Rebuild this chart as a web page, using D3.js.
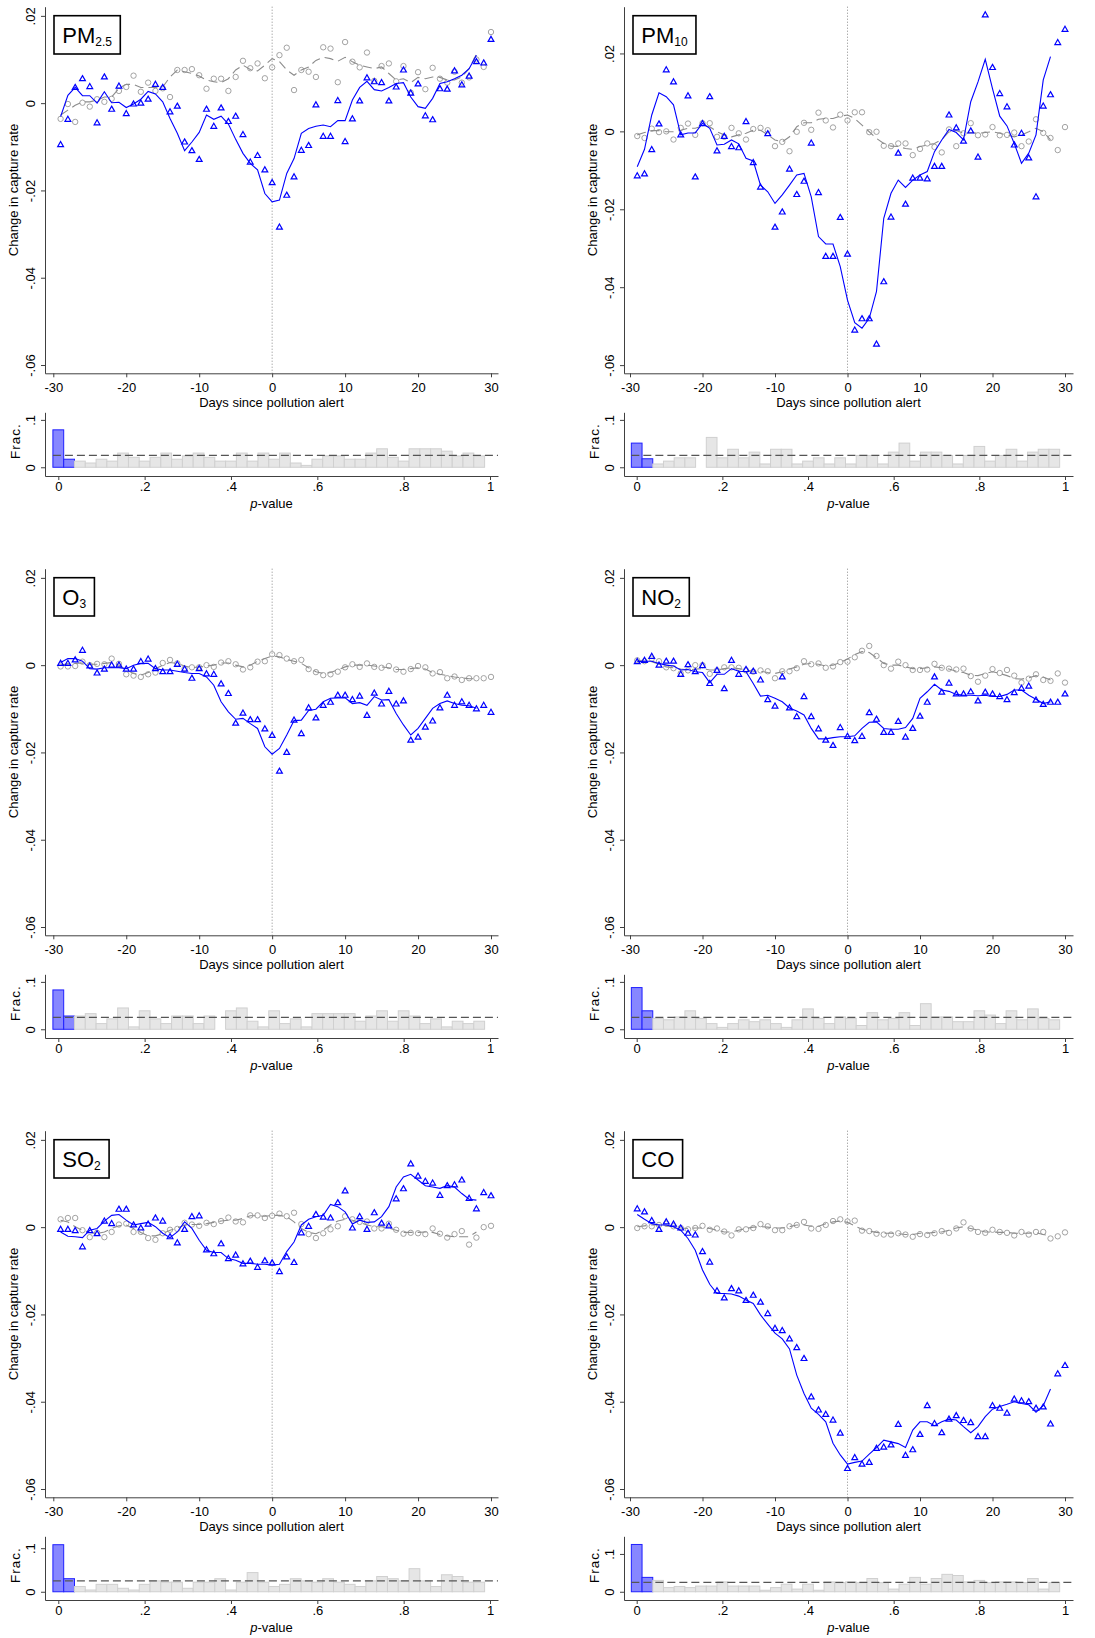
<!DOCTYPE html>
<html>
<head>
<meta charset="utf-8">
<script src="https://cdn.jsdelivr.net/npm/d3@7"></script>
<style>
  body { margin: 0; background: #fff; }
  svg text { font-family: "Liberation Sans", Arial, sans-serif; fill: #000; }
</style>
</head>
<body>
<svg id="canvas"></svg>
<script>
const days = [-29, -28, -27, -26, -25, -24, -23, -22, -21, -20, -19, -18, -17, -16, -15, -14, -13, -12, -11, -10,
  -9, -8, -7, -6, -5, -4, -3, -2, -1, 0, 1, 2, 3, 4, 5, 6, 7, 8, 9, 10,
  11, 12, 13, 14, 15, 16, 17, 18, 19, 20, 21, 22, 23, 24, 25, 26, 27, 28, 29, 30];
const smoothDays = days.slice(0, 58);
const pBins = [0, 0.025, 0.05, 0.075, 0.1, 0.125, 0.15, 0.175, 0.2, 0.225, 0.25, 0.275, 0.3, 0.325, 0.35, 0.375,
  0.4, 0.425, 0.45, 0.475, 0.5, 0.525, 0.55, 0.575, 0.6, 0.625, 0.65, 0.675, 0.7, 0.725, 0.75, 0.775,
  0.8, 0.825, 0.85, 0.875, 0.9, 0.925, 0.95, 0.975];

// PM2.5
const pm25Tri = [-0.0095, -0.0037, 0.0036, 0.0056, 0.0038, -0.0045, 0.0060, -0.0014, 0.0039, -0.0024,
  -0.0002, 0.0000, 0.0009, 0.0043, 0.0036, -0.0020, -0.0007, -0.0089, -0.0109, -0.0129,
  -0.0014, -0.0053, -0.0011, -0.0042, -0.0030, -0.0072, -0.0135, -0.0120, -0.0153, -0.0182,
  -0.0284, -0.0211, -0.0169, -0.0108, -0.0097, -0.0004, -0.0076, -0.0076, 0.0006, -0.0088,
  -0.0036, 0.0005, 0.0058, 0.0049, 0.0047, 0.0005, 0.0037, 0.0076, 0.0023, 0.0044,
  -0.0029, -0.0038, 0.0033, 0.0032, 0.0074, 0.0042, 0.0062, 0.0095, 0.0092, 0.0146];
const pm25Line = [-0.0031, 0.0018, 0.0036, 0.0017, 0.0017, 0.0000, 0.0026, 0.0001, 0.0002, -0.0010,
  -0.0002, 0.0009, 0.0027, 0.0021, 0.0003, -0.0035, -0.0069, -0.0109, -0.0089, -0.0067,
  -0.0027, -0.0037, -0.0030, -0.0048, -0.0083, -0.0115, -0.0138, -0.0153, -0.0207, -0.0226,
  -0.0222, -0.0161, -0.0127, -0.0069, -0.0058, -0.0053, -0.0050, -0.0054, -0.0040, -0.0040,
  0.0007, 0.0036, 0.0050, 0.0031, 0.0028, 0.0036, 0.0045, 0.0047, 0.0014, -0.0008,
  -0.0012, 0.0011, 0.0045, 0.0049, 0.0056, 0.0064, 0.0079, 0.0110];
const pm25Circ = [-0.0036, -0.0002, -0.0043, 0.0001, -0.0008, 0.0009, 0.0003, 0.0010, 0.0028, 0.0037,
  0.0063, 0.0026, 0.0047, 0.0028, 0.0034, 0.0014, 0.0076, 0.0076, 0.0078, 0.0064,
  0.0033, 0.0056, 0.0056, 0.0028, 0.0060, 0.0097, 0.0080, 0.0091, 0.0057, 0.0082,
  0.0110, 0.0127, 0.0030, 0.0076, 0.0072, 0.0060, 0.0128, 0.0125, 0.0048, 0.0140,
  0.0095, 0.0082, 0.0116, 0.0051, 0.0085, 0.0091, 0.0050, 0.0085, 0.0024, 0.0071,
  0.0032, 0.0081, 0.0056, 0.0047, 0.0072, 0.0047, 0.0059, 0.0100, 0.0083, 0.0163];
const pm25Dash = [-0.0027, -0.0016, -0.0005, 0.0003, 0.0003, 0.0007, 0.0014, 0.0014, 0.0034, 0.0043,
  0.0043, 0.0036, 0.0036, 0.0036, 0.0037, 0.0060, 0.0076, 0.0072, 0.0068, 0.0062,
  0.0053, 0.0049, 0.0047, 0.0056, 0.0076, 0.0087, 0.0077, 0.0074, 0.0087, 0.0102,
  0.0095, 0.0076, 0.0064, 0.0076, 0.0083, 0.0098, 0.0105, 0.0102, 0.0096, 0.0105,
  0.0095, 0.0087, 0.0083, 0.0079, 0.0083, 0.0068, 0.0053, 0.0056, 0.0047, 0.0059,
  0.0056, 0.0060, 0.0059, 0.0053, 0.0053, 0.0060, 0.0079, 0.0112];
const pm25Hist = [0.079, 0.017, 0.013, 0.009, 0.017, 0.013, 0.030, 0.021, 0.013, 0.021,
  0.030, 0.017, 0.024, 0.030, 0.021, 0.013, 0.013, 0.030, 0.013, 0.030,
  0.017, 0.030, 0.009, 0.004, 0.017, 0.024, 0.024, 0.017, 0.017, 0.030,
  0.039, 0.021, 0.013, 0.039, 0.039, 0.039, 0.034, 0.024, 0.030, 0.024];

// PM10
const pm10Tri = [-0.0114, -0.0109, -0.0047, 0.0019, 0.0158, 0.0127, -0.0009, 0.0091, -0.0117, 0.0020,
  0.0089, -0.0050, -0.0013, -0.0039, -0.0042, 0.0025, -0.0080, -0.0143, -0.0006, -0.0246,
  -0.0207, -0.0097, -0.0162, -0.0128, -0.0030, -0.0157, -0.0321, -0.0321, -0.0221, -0.0315,
  -0.0510, -0.0481, -0.0481, -0.0546, -0.0386, -0.0220, -0.0056, -0.0187, -0.0120, -0.0120,
  -0.0122, -0.0090, -0.0090, 0.0042, 0.0009, -0.0025, 0.0001, -0.0066, 0.0299, 0.0164,
  0.0097, 0.0063, -0.0035, -0.0005, -0.0068, -0.0168, 0.0065, 0.0094, 0.0228, 0.0262];
const pm10Line = [-0.0091, -0.0046, 0.0042, 0.0099, 0.0089, 0.0068, -0.0009, -0.0004, -0.0004, 0.0021,
  0.0008, -0.0035, -0.0033, -0.0022, -0.0032, -0.0069, -0.0076, -0.0138, -0.0155, -0.0185,
  -0.0163, -0.0138, -0.0112, -0.0108, -0.0168, -0.0270, -0.0289, -0.0289, -0.0347, -0.0433,
  -0.0491, -0.0505, -0.0480, -0.0411, -0.0223, -0.0159, -0.0125, -0.0144, -0.0125, -0.0112,
  -0.0103, -0.0052, -0.0022, 0.0005, -0.0003, -0.0022, 0.0076, 0.0127, 0.0185, 0.0110,
  0.0039, 0.0014, -0.0031, -0.0082, -0.0056, -0.0009, 0.0132, 0.0192];
const pm10Circ = [-0.0012, -0.0017, 0.0007, -0.0002, 0.0000, -0.0021, 0.0009, 0.0020, -0.0009, 0.0021,
  0.0021, -0.0014, -0.0014, 0.0009, -0.0005, -0.0021, 0.0006, 0.0009, 0.0003, -0.0038,
  -0.0027, -0.0051, -0.0001, 0.0022, 0.0004, 0.0048, 0.0028, 0.0010, 0.0043, 0.0028,
  0.0049, 0.0049, -0.0002, -0.0001, -0.0037, -0.0038, -0.0031, -0.0031, -0.0061, -0.0045,
  -0.0031, -0.0040, -0.0054, 0.0005, -0.0038, -0.0005, 0.0021, -0.0010, -0.0008, 0.0011,
  -0.0010, -0.0009, -0.0003, -0.0038, -0.0026, 0.0031, -0.0004, -0.0017, -0.0048, 0.0011];
const pm10Dash = [-0.0009, -0.0003, 0.0002, 0.0002, -0.0001, -0.0001, 0.0003, 0.0008, 0.0008, 0.0014,
  0.0012, -0.0001, -0.0009, -0.0014, -0.0009, -0.0005, 0.0003, 0.0003, -0.0009, -0.0022,
  -0.0027, -0.0014, 0.0012, 0.0022, 0.0022, 0.0031, 0.0033, 0.0033, 0.0039, 0.0042,
  0.0033, 0.0016, -0.0001, -0.0018, -0.0031, -0.0038, -0.0039, -0.0044, -0.0046, -0.0039,
  -0.0035, -0.0031, -0.0021, -0.0001, 0.0002, -0.0005, -0.0003, -0.0005, -0.0003, -0.0001,
  -0.0005, -0.0009, -0.0014, -0.0009, -0.0001, 0.0008, -0.0001, -0.0022];
const pm10Hist = [0.051, 0.018, 0.007, 0.013, 0.020, 0.020, 0, 0.063, 0.020, 0.038,
  0.020, 0.032, 0.007, 0.038, 0.038, 0.007, 0.013, 0.020, 0.007, 0.020,
  0.007, 0.025, 0.025, 0.007, 0.032, 0.051, 0.013, 0.032, 0.032, 0.025,
  0.007, 0.025, 0.044, 0.013, 0.025, 0.038, 0.013, 0.032, 0.038, 0.038];

// O3
const o3Tri = [0.0004, 0.0004, 0.0012, 0.0034, -0.0002, -0.0018, -0.0009, 0.0000, 0.0000, -0.0009,
  -0.0009, 0.0008, 0.0014, -0.0008, -0.0015, -0.0015, 0.0002, -0.0009, -0.0030, -0.0008,
  -0.0020, -0.0021, -0.0043, -0.0065, -0.0133, -0.0110, -0.0125, -0.0125, -0.0146, -0.0161,
  -0.0243, -0.0200, -0.0126, -0.0157, -0.0098, -0.0121, -0.0092, -0.0085, -0.0069, -0.0069,
  -0.0079, -0.0071, -0.0115, -0.0064, -0.0089, -0.0060, -0.0089, -0.0082, -0.0172, -0.0165,
  -0.0142, -0.0128, -0.0098, -0.0069, -0.0092, -0.0084, -0.0092, -0.0100, -0.0092, -0.0108];
const o3Line = [0.0006, 0.0015, 0.0015, 0.0009, -0.0008, -0.0009, -0.0006, -0.0006, -0.0006, -0.0008,
  0.0000, 0.0004, 0.0004, -0.0008, -0.0011, -0.0011, -0.0014, -0.0017, -0.0019, -0.0019,
  -0.0027, -0.0046, -0.0084, -0.0107, -0.0124, -0.0122, -0.0134, -0.0145, -0.0187, -0.0204,
  -0.0191, -0.0160, -0.0127, -0.0126, -0.0104, -0.0101, -0.0084, -0.0076, -0.0075, -0.0075,
  -0.0088, -0.0086, -0.0092, -0.0072, -0.0080, -0.0079, -0.0111, -0.0137, -0.0160, -0.0145,
  -0.0122, -0.0099, -0.0088, -0.0082, -0.0088, -0.0092, -0.0093, -0.0099];
const o3Circ = [-0.0003, -0.0003, -0.0002, 0.0008, 0.0000, 0.0003, 0.0002, 0.0015, 0.0003, -0.0021,
  -0.0024, -0.0027, -0.0021, -0.0017, 0.0005, 0.0012, 0.0004, -0.0008, -0.0005, -0.0005,
  0.0000, -0.0004, 0.0006, 0.0009, 0.0002, -0.0010, -0.0005, 0.0008, 0.0009, 0.0025,
  0.0023, 0.0015, 0.0009, 0.0012, -0.0009, -0.0016, -0.0023, -0.0021, -0.0015, -0.0005,
  0.0002, -0.0004, 0.0004, -0.0004, -0.0006, -0.0002, -0.0010, -0.0015, -0.0009, -0.0002,
  -0.0005, -0.0019, -0.0016, -0.0030, -0.0026, -0.0034, -0.0030, -0.0030, -0.0030, -0.0027];
const o3Dash = [0.0000, 0.0003, 0.0004, 0.0005, 0.0002, 0.0002, 0.0004, 0.0006, 0.0000, -0.0011,
  -0.0019, -0.0023, -0.0017, -0.0008, 0.0000, 0.0006, 0.0004, -0.0002, -0.0006, -0.0004,
  -0.0002, 0.0000, 0.0005, 0.0005, 0.0000, -0.0004, 0.0000, 0.0009, 0.0015, 0.0021,
  0.0019, 0.0013, 0.0009, 0.0004, -0.0006, -0.0015, -0.0019, -0.0017, -0.0011, -0.0004,
  0.0000, 0.0000, 0.0000, -0.0002, -0.0004, -0.0006, -0.0010, -0.0010, -0.0008, -0.0006,
  -0.0009, -0.0017, -0.0021, -0.0024, -0.0027, -0.0029, -0.0031, -0.0031];
const o3Hist = [0.083, 0.028, 0.028, 0.033, 0.012, 0.022, 0.045, 0.005, 0.039, 0.022,
  0.012, 0.028, 0.028, 0.012, 0.028, 0, 0.039, 0.045, 0.017, 0.005,
  0.039, 0.012, 0.022, 0.005, 0.033, 0.033, 0.033, 0.033, 0.017, 0.028,
  0.039, 0.017, 0.039, 0.028, 0.012, 0.022, 0.005, 0.017, 0.012, 0.017];

// NO2
const no2Tri = [0.0008, 0.0011, 0.0020, 0.0000, 0.0009, 0.0009, -0.0021, 0.0001, -0.0015, -0.0001,
  -0.0042, -0.0012, -0.0054, 0.0011, -0.0021, -0.0010, -0.0014, -0.0034, -0.0079, -0.0094,
  -0.0027, -0.0098, -0.0118, -0.0072, -0.0118, -0.0146, -0.0172, -0.0184, -0.0143, -0.0163,
  -0.0173, -0.0163, -0.0109, -0.0124, -0.0154, -0.0154, -0.0129, -0.0165, -0.0145, -0.0117,
  -0.0085, -0.0027, -0.0062, -0.0041, -0.0066, -0.0066, -0.0061, -0.0082, -0.0062, -0.0066,
  -0.0072, -0.0079, -0.0063, -0.0053, -0.0048, -0.0080, -0.0090, -0.0085, -0.0085, -0.0066];
const no2Line = [0.0008, 0.0009, 0.0009, 0.0004, 0.0000, -0.0002, -0.0011, -0.0010, -0.0015, -0.0017,
  -0.0040, -0.0021, -0.0021, -0.0008, -0.0014, -0.0015, -0.0042, -0.0071, -0.0069, -0.0076,
  -0.0084, -0.0098, -0.0105, -0.0114, -0.0145, -0.0169, -0.0169, -0.0166, -0.0164, -0.0164,
  -0.0162, -0.0145, -0.0131, -0.0130, -0.0145, -0.0147, -0.0147, -0.0143, -0.0122, -0.0076,
  -0.0061, -0.0044, -0.0057, -0.0060, -0.0067, -0.0069, -0.0069, -0.0070, -0.0069, -0.0072,
  -0.0072, -0.0067, -0.0057, -0.0057, -0.0069, -0.0078, -0.0088, -0.0084];
const no2Circ = [0.0011, 0.0009, 0.0015, 0.0009, -0.0005, -0.0007, -0.0019, -0.0012, 0.0000, 0.0000,
  -0.0020, -0.0012, -0.0005, -0.0005, -0.0006, -0.0012, -0.0015, -0.0012, -0.0014, -0.0030,
  -0.0014, -0.0014, -0.0007, 0.0009, 0.0002, 0.0004, -0.0006, -0.0003, 0.0007, 0.0008,
  0.0018, 0.0033, 0.0044, 0.0021, 0.0000, -0.0008, 0.0008, 0.0000, -0.0011, -0.0011,
  -0.0010, 0.0003, -0.0006, -0.0008, -0.0010, -0.0008, -0.0025, -0.0038, -0.0024, -0.0009,
  -0.0018, -0.0011, -0.0024, -0.0040, -0.0031, -0.0021, -0.0034, -0.0036, -0.0019, -0.0040];
const no2Dash = [0.0011, 0.0009, 0.0008, 0.0002, -0.0004, -0.0006, -0.0009, -0.0011, -0.0009, -0.0008,
  -0.0011, -0.0011, -0.0008, -0.0006, -0.0008, -0.0011, -0.0014, -0.0014, -0.0017, -0.0019,
  -0.0015, -0.0009, -0.0004, 0.0002, 0.0004, 0.0002, -0.0002, 0.0000, 0.0006, 0.0014,
  0.0024, 0.0031, 0.0029, 0.0017, 0.0004, 0.0000, 0.0000, -0.0004, -0.0008, -0.0008,
  -0.0006, -0.0004, -0.0006, -0.0009, -0.0014, -0.0017, -0.0023, -0.0024, -0.0019, -0.0015,
  -0.0019, -0.0024, -0.0031, -0.0032, -0.0029, -0.0024, -0.0027, -0.0034];
const no2Hist = [0.088, 0.039, 0.023, 0.020, 0.026, 0.039, 0.023, 0.012, 0.004, 0.012,
  0.020, 0.016, 0.020, 0.012, 0.004, 0.020, 0.043, 0.023, 0.012, 0.026,
  0.023, 0.008, 0.035, 0.020, 0.023, 0.035, 0.008, 0.054, 0.026, 0.026,
  0.016, 0.016, 0.039, 0.030, 0.012, 0.039, 0.020, 0.043, 0.023, 0.020];

// SO2
const so2Tri = [-0.0005, -0.0005, -0.0008, -0.0045, -0.0008, -0.0015, 0.0014, 0.0008, 0.0041, 0.0041,
  0.0005, -0.0002, 0.0007, 0.0021, 0.0014, -0.0022, -0.0036, -0.0005, 0.0024, 0.0026,
  -0.0052, -0.0061, -0.0038, -0.0072, -0.0064, -0.0084, -0.0078, -0.0092, -0.0077, -0.0082,
  -0.0102, -0.0068, -0.0081, -0.0013, 0.0002, 0.0029, 0.0023, 0.0021, 0.0056, 0.0083,
  -0.0002, 0.0024, -0.0005, 0.0033, 0.0009, 0.0003, 0.0065, 0.0088, 0.0145, 0.0117,
  0.0105, 0.0101, 0.0073, 0.0095, 0.0097, 0.0108, 0.0066, 0.0042, 0.0079, 0.0072];
const so2Line = [-0.0011, -0.0021, -0.0022, -0.0024, -0.0007, -0.0003, 0.0014, 0.0027, 0.0029, 0.0016,
  0.0005, 0.0008, 0.0011, 0.0001, -0.0014, -0.0024, -0.0011, 0.0012, -0.0003, -0.0030,
  -0.0053, -0.0058, -0.0058, -0.0072, -0.0076, -0.0083, -0.0083, -0.0085, -0.0085, -0.0087,
  -0.0085, -0.0056, -0.0034, 0.0005, 0.0018, 0.0024, 0.0027, 0.0052, 0.0047, 0.0035,
  0.0007, 0.0016, 0.0011, 0.0012, 0.0024, 0.0047, 0.0092, 0.0115, 0.0121, 0.0108,
  0.0095, 0.0092, 0.0089, 0.0095, 0.0092, 0.0077, 0.0064, 0.0062];
const so2Circ = [0.0018, 0.0021, 0.0021, -0.0007, -0.0023, -0.0013, -0.0023, -0.0011, 0.0006, 0.0008,
  -0.0011, -0.0011, -0.0025, -0.0029, -0.0014, -0.0006, -0.0004, 0.0010, 0.0006, 0.0003,
  0.0010, 0.0007, 0.0014, 0.0022, 0.0013, 0.0011, 0.0027, 0.0027, 0.0021, 0.0026,
  0.0031, 0.0025, 0.0033, 0.0007, -0.0016, -0.0025, -0.0014, -0.0005, 0.0002, 0.0025,
  0.0018, 0.0012, 0.0013, -0.0003, -0.0003, 0.0008, -0.0006, -0.0015, -0.0013, -0.0014,
  -0.0016, -0.0003, -0.0015, -0.0024, -0.0016, -0.0009, -0.0040, -0.0024, 0.0000, 0.0003];
const so2Dash = [0.0016, 0.0012, 0.0001, -0.0007, -0.0012, -0.0015, -0.0011, -0.0003, 0.0003, 0.0005,
  -0.0003, -0.0012, -0.0020, -0.0020, -0.0015, -0.0007, -0.0002, 0.0005, 0.0006, 0.0006,
  0.0008, 0.0011, 0.0014, 0.0016, 0.0016, 0.0020, 0.0026, 0.0026, 0.0025, 0.0027,
  0.0027, 0.0024, 0.0012, -0.0003, -0.0012, -0.0015, -0.0007, 0.0005, 0.0014, 0.0018,
  0.0016, 0.0011, 0.0005, 0.0001, 0.0001, -0.0002, -0.0007, -0.0012, -0.0012, -0.0012,
  -0.0011, -0.0012, -0.0017, -0.0020, -0.0022, -0.0022, -0.0022, -0.0011];
const so2Hist = [0.108, 0.030, 0.012, 0.004, 0.017, 0.017, 0.008, 0.004, 0.017, 0.025,
  0.022, 0.022, 0.008, 0.022, 0.022, 0.030, 0.004, 0.022, 0.044, 0.022,
  0.012, 0.017, 0.030, 0.025, 0.022, 0.030, 0.022, 0.017, 0.012, 0.025,
  0.035, 0.030, 0.025, 0.053, 0.025, 0.012, 0.039, 0.035, 0.022, 0.022];

// CO
const coTri = [0.0042, 0.0035, 0.0015, -0.0005, 0.0012, 0.0007, -0.0002, -0.0014, -0.0018, -0.0056,
  -0.0080, -0.0146, -0.0162, -0.0141, -0.0146, -0.0168, -0.0156, -0.0172, -0.0198, -0.0232,
  -0.0237, -0.0256, -0.0276, -0.0301, -0.0389, -0.0419, -0.0429, -0.0442, -0.0472, -0.0553,
  -0.0528, -0.0543, -0.0539, -0.0507, -0.0504, -0.0499, -0.0452, -0.0523, -0.0510, -0.0475,
  -0.0409, -0.0450, -0.0471, -0.0440, -0.0432, -0.0443, -0.0448, -0.0480, -0.0480, -0.0409,
  -0.0415, -0.0426, -0.0394, -0.0398, -0.0400, -0.0415, -0.0412, -0.0451, -0.0336, -0.0317];
const coLine = [0.0029, 0.0018, 0.0008, 0.0005, 0.0005, 0.0001, -0.0007, -0.0026, -0.0053, -0.0098,
  -0.0131, -0.0152, -0.0152, -0.0153, -0.0158, -0.0167, -0.0175, -0.0201, -0.0222, -0.0243,
  -0.0256, -0.0279, -0.0339, -0.0381, -0.0415, -0.0429, -0.0446, -0.0495, -0.0522, -0.0543,
  -0.0539, -0.0536, -0.0520, -0.0505, -0.0488, -0.0492, -0.0496, -0.0505, -0.0465, -0.0446,
  -0.0446, -0.0455, -0.0446, -0.0440, -0.0442, -0.0457, -0.0471, -0.0457, -0.0434, -0.0417,
  -0.0411, -0.0406, -0.0400, -0.0404, -0.0407, -0.0424, -0.0409, -0.0371];
const coCirc = [-0.0002, 0.0002, 0.0002, 0.0005, 0.0008, 0.0002, -0.0002, -0.0005, -0.0002, 0.0003,
  -0.0006, -0.0003, -0.0010, -0.0019, -0.0005, -0.0005, -0.0002, 0.0007, 0.0002, -0.0007,
  -0.0007, 0.0002, 0.0005, 0.0012, -0.0003, -0.0004, 0.0005, 0.0014, 0.0018, 0.0013,
  0.0015, -0.0008, -0.0009, -0.0015, -0.0017, -0.0017, -0.0014, -0.0017, -0.0022, -0.0016,
  -0.0018, -0.0014, -0.0009, -0.0013, -0.0003, 0.0011, -0.0003, -0.0011, -0.0013, -0.0006,
  -0.0011, -0.0013, -0.0019, -0.0011, -0.0017, -0.0011, -0.0011, -0.0026, -0.0021, -0.0012];
const coDash = [0.0001, 0.0003, 0.0005, 0.0005, 0.0003, 0.0001, -0.0002, -0.0003, -0.0002, -0.0002,
  -0.0003, -0.0007, -0.0011, -0.0011, -0.0007, -0.0003, 0.0000, 0.0001, 0.0000, -0.0002,
  -0.0002, 0.0001, 0.0005, 0.0005, 0.0002, 0.0002, 0.0008, 0.0012, 0.0014, 0.0011,
  0.0003, -0.0005, -0.0009, -0.0012, -0.0014, -0.0014, -0.0015, -0.0017, -0.0017, -0.0014,
  -0.0014, -0.0012, -0.0011, -0.0007, -0.0002, 0.0001, -0.0003, -0.0007, -0.0011, -0.0011,
  -0.0012, -0.0012, -0.0014, -0.0014, -0.0014, -0.0013, -0.0017, -0.0020];
const coHist = [0.125, 0.038, 0.030, 0.011, 0.014, 0.011, 0.015, 0.015, 0.026, 0.015,
  0.015, 0.015, 0.004, 0.011, 0.020, 0.007, 0.020, 0.004, 0.026, 0.024,
  0.026, 0.024, 0.035, 0.024, 0.007, 0.020, 0.038, 0.020, 0.035, 0.046,
  0.043, 0.026, 0.030, 0.024, 0.026, 0.026, 0.024, 0.035, 0.007, 0.024];

const dayTicks = [-30, -20, -10, 0, 10, 20, 30];
const rateTicks = [-0.06, -0.04, -0.02, 0, 0.02];
const pTicks = [0, 0.2, 0.4, 0.6, 0.8, 1];
const fracTicks = [0, 0.1];
const refFrac = 0.025;
const binWidth = 0.025;

const panels = [
  { name: 'PM', sub: '2.5', tri: pm25Tri, line: pm25Line, circ: pm25Circ, dash: pm25Dash, hist: pm25Hist, yDom: [-0.0619, 0.0221], hDom: [-0.0184, 0.116] },
  { name: 'PM', sub: '10', tri: pm10Tri, line: pm10Line, circ: pm10Circ, dash: pm10Dash, hist: pm10Hist, yDom: [-0.0621, 0.032], hDom: [-0.0184, 0.116] },
  { name: 'O', sub: '3', tri: o3Tri, line: o3Line, circ: o3Circ, dash: o3Dash, hist: o3Hist, yDom: [-0.0619, 0.0221], hDom: [-0.0184, 0.116] },
  { name: 'NO', sub: '2', tri: no2Tri, line: no2Line, circ: no2Circ, dash: no2Dash, hist: no2Hist, yDom: [-0.0619, 0.0221], hDom: [-0.0184, 0.116] },
  { name: 'SO', sub: '2', tri: so2Tri, line: so2Line, circ: so2Circ, dash: so2Dash, hist: so2Hist, yDom: [-0.0619, 0.0221], hDom: [-0.0189, 0.1273] },
  { name: 'CO', sub: '', tri: coTri, line: coLine, circ: coCirc, dash: coDash, hist: coHist, yDom: [-0.0619, 0.0221], hDom: [-0.0218, 0.1466] }
];

const width = 1095;
const height = 1638;
const blue = '#0000ff';
const axisColor = '#404040';

const cols = [
  { left: 45, right: 498, x30: [53.3, 491], p01: [58.3, 490] },
  { left: 624, right: 1073, x30: [630, 1065], p01: [636.7, 1065] }
];
const rowOffsets = [0, 562, 1124];
const main = { top: 6.7, bottom: 373.3 };
const histBox = { top: 412.3, bottom: 476 };

const svg = d3.select('#canvas')
  .attr('width', width)
  .attr('height', height);

svg.append('rect').attr('width', width).attr('height', height).attr('fill', '#fff');

// Stata style labels: ".02", "-.04", "0", "1"
const fmt = v => {
  if (Math.abs(v) < 1e-9) return '0';
  const s = String(+Math.abs(v).toFixed(3)).replace(/^0\./, '.');
  return (v < 0 ? '-' : '') + s;
};

function styleAxis(sel) {
  sel.select('.domain').attr('stroke', axisColor).attr('stroke-width', 1);
  sel.selectAll('.tick line').attr('stroke', axisColor);
  sel.selectAll('.tick text')
    .attr('font-size', 13)
    .attr('font-family', '"Liberation Sans", Arial, sans-serif')
    .attr('fill', '#000');
}

function rotateLeftLabels(sel) {
  sel.selectAll('.tick text')
    .attr('transform', 'rotate(-90)')
    .attr('x', 0)
    .attr('y', -10.5)
    .attr('dy', 0)
    .attr('text-anchor', 'middle');
}

panels.forEach((p, i) => {
  const col = cols[i % 2];
  const g = svg.append('g').attr('transform', `translate(0,${rowOffsets[Math.floor(i / 2)]})`);

  const x = d3.scaleLinear().domain([-30, 30]).range(col.x30);
  const xAxisScale = d3.scaleLinear().domain([x.invert(col.left), x.invert(col.right)]).range([col.left, col.right]);
  const y = d3.scaleLinear().domain(p.yDom).range([main.bottom, main.top]);

  g.append('g')
    .attr('transform', `translate(${col.left},0)`)
    .call(d3.axisLeft(y).tickValues(rateTicks).tickFormat(fmt).tickSize(4).tickSizeOuter(0))
    .call(styleAxis)
    .call(rotateLeftLabels);

  g.append('g')
    .attr('transform', `translate(0,${main.bottom})`)
    .call(d3.axisBottom(xAxisScale).tickValues(dayTicks).tickFormat(fmt).tickSize(4).tickSizeOuter(0).tickPadding(5))
    .call(styleAxis);

  g.append('line')
    .attr('x1', x(0)).attr('x2', x(0))
    .attr('y1', main.top).attr('y2', main.bottom)
    .attr('stroke', '#8a8a8a')
    .attr('stroke-width', 1)
    .attr('stroke-dasharray', '1,2');

  g.append('text')
    .attr('x', (col.left + col.right) / 2)
    .attr('y', main.bottom + 33.4)
    .attr('text-anchor', 'middle')
    .attr('font-size', 13)
    .text('Days since pollution alert');

  g.append('text')
    .attr('transform', `translate(${col.left - 27},${(main.top + main.bottom) / 2}) rotate(-90)`)
    .attr('text-anchor', 'middle')
    .attr('font-size', 13)
    .text('Change in capture rate');

  // gray series
  g.selectAll('circle.gray')
    .data(days)
    .enter()
    .append('circle')
    .attr('class', 'gray')
    .attr('cx', d => x(d))
    .attr('cy', (d, j) => y(p.circ[j]))
    .attr('r', 2.7)
    .attr('fill', 'none')
    .attr('stroke', '#a3a3a3')
    .attr('stroke-width', 1);

  g.append('path')
    .datum(smoothDays)
    .attr('fill', 'none')
    .attr('stroke', '#8c8c8c')
    .attr('stroke-width', 1.1)
    .attr('stroke-dasharray', '9,5')
    .attr('d', d3.line().x(d => x(d)).y((d, j) => y(p.dash[j])));

  // blue series
  g.selectAll('path.tri')
    .data(days)
    .enter()
    .append('path')
    .attr('class', 'tri')
    .attr('transform', (d, j) => `translate(${x(d)},${y(p.tri[j])})`)
    .attr('d', 'M0,-3.1L2.9,2L-2.9,2Z')
    .attr('fill', 'none')
    .attr('stroke', blue)
    .attr('stroke-width', 1.2);

  g.append('path')
    .datum(smoothDays)
    .attr('fill', 'none')
    .attr('stroke', blue)
    .attr('stroke-width', 1.1)
    .attr('d', d3.line().x(d => x(d)).y((d, j) => y(p.line[j])));

  // label box
  const bx = col.left + 9;
  const by = 15.7;
  const box = g.append('rect');
  const label = g.append('text')
    .attr('x', bx + 8.3)
    .attr('y', by + 27.6)
    .attr('font-size', 22);
  label.append('tspan').text(p.name);
  if (p.sub) {
    label.append('tspan').attr('font-size', 12).attr('dy', 2.4).text(p.sub);
  }
  const tw = label.node().getComputedTextLength();
  box.attr('x', bx).attr('y', by)
    .attr('width', tw + 16.6).attr('height', 38.3)
    .attr('fill', '#fff')
    .attr('stroke', '#000')
    .attr('stroke-width', 1.6);

  // p-value histogram
  const xh = d3.scaleLinear().domain([0, 1]).range(col.p01);
  const xhAxis = d3.scaleLinear().domain([xh.invert(col.left), xh.invert(col.right)]).range([col.left, col.right]);
  const yh = d3.scaleLinear().domain(p.hDom).range([histBox.bottom, histBox.top]);

  g.append('g')
    .attr('transform', `translate(${col.left},0)`)
    .call(d3.axisLeft(yh).tickValues(fracTicks).tickFormat(fmt).tickSize(4).tickSizeOuter(0))
    .call(styleAxis)
    .call(rotateLeftLabels);

  g.append('g')
    .attr('transform', `translate(0,${histBox.bottom})`)
    .call(d3.axisBottom(xhAxis).tickValues(pTicks).tickFormat(fmt).tickSize(4).tickSizeOuter(0).tickPadding(2))
    .call(styleAxis);

  g.selectAll('rect.bar')
    .data(pBins.map((c, j) => ({ c, v: p.hist[j], j })).filter(d => d.v > 0))
    .enter()
    .append('rect')
    .attr('class', 'bar')
    .attr('x', d => xh(d.c - binWidth / 2))
    .attr('width', xh(binWidth) - xh(0))
    .attr('y', d => yh(d.v))
    .attr('height', d => yh(0) - yh(d.v))
    .attr('fill', d => d.j < 2 ? '#8787ff' : '#e6e6e6')
    .attr('stroke', d => d.j < 2 ? '#1f1fff' : '#d0d0d0')
    .attr('stroke-width', 1);

  g.append('line')
    .attr('x1', xh(-binWidth / 2)).attr('x2', col.right)
    .attr('y1', yh(refFrac)).attr('y2', yh(refFrac))
    .attr('stroke', '#555')
    .attr('stroke-width', 1.2)
    .attr('stroke-dasharray', '8,4');

  g.append('text')
    .attr('transform', `translate(${col.left - 25.5},${histBox.bottom - 17}) rotate(-90)`)
    .attr('font-size', 13.5)
    .attr('letter-spacing', 1)
    .text('Frac.');

  const pv = g.append('text')
    .attr('x', (col.left + col.right) / 2)
    .attr('y', histBox.bottom + 32)
    .attr('text-anchor', 'middle')
    .attr('font-size', 13);
  pv.append('tspan').attr('font-style', 'italic').text('p');
  pv.append('tspan').text('-value');
});
</script>
</body>
</html>
